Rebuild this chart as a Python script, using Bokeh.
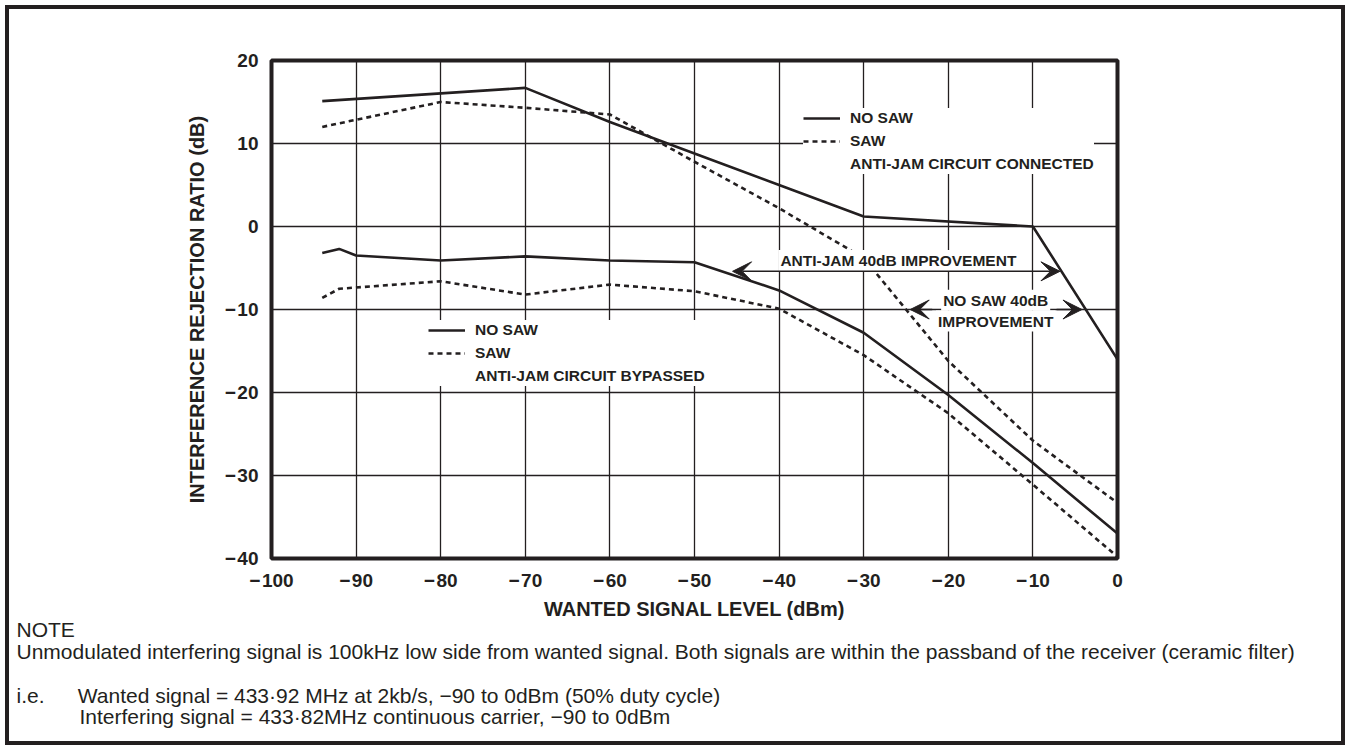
from bokeh.plotting import figure
from bokeh.models import (Range1d, Legend, LegendItem, Label, Arrow, VeeHead,
                          FixedTicker, Title)
from bokeh.embed import file_html
from bokeh.resources import INLINE

# ---------------- data ----------------
x_ticks = [-100, -90, -80, -70, -60, -50, -40, -30, -20, -10, 0]
y_ticks = [-40, -30, -20, -10, 0, 10, 20]

# Anti-jam circuit connected
conn_nosaw_x = [-94, -70, -60, -50, -40, -30, -10, 0]
conn_nosaw_y = [15.1, 16.7, 12.6, 8.8, 5.0, 1.2, 0.0, -16.0]
conn_saw_x = [-94, -80, -70, -60, -50, -40, -30, -20, -10, 0]
conn_saw_y = [12.0, 15.0, 14.3, 13.5, 7.8, 2.2, -3.8, -16.2, -25.8, -33.3]

# Anti-jam circuit bypassed
byp_nosaw_x = [-94, -92, -90, -80, -70, -60, -50, -40, -30, -20, -10, 0]
byp_nosaw_y = [-3.2, -2.7, -3.5, -4.1, -3.6, -4.1, -4.3, -7.7, -12.8, -20.3, -28.5, -37.0]
byp_saw_x = [-94, -92, -80, -70, -60, -50, -40, -30, -20, -10, 0]
byp_saw_y = [-8.6, -7.5, -6.6, -8.2, -7.0, -7.8, -9.9, -15.5, -22.5, -31.1, -39.8]

x_title = "WANTED SIGNAL LEVEL (dBm)"
y_title = "INTERFERENCE REJECTION RATIO (dB)"
note_lines = [
    "NOTE",
    "Unmodulated interfering signal is 100kHz low side from wanted signal. "
    "Both signals are within the passband of the receiver (ceramic filter)",
    "",
    "i.e.\u2003\u2002\u200aWanted signal = 433\u00b792 MHz at 2kb/s, "
    "\u221290 to 0dBm (50% duty cycle)",
    "\u2003\u2003\u2003Interfering signal = 433\u00b782MHz continuous carrier, "
    "\u221290 to 0dBm",
]

INK = "#231f20"
SANS = "Liberation Sans"
LBL_SIZE = "15.5px"
NOTE_SIZE = "21px"

W, H = 1340, 740
p = figure(width=W, height=H, output_backend="svg", toolbar_location=None,
           x_range=Range1d(-100, 0), y_range=Range1d(-40, 20),
           min_border_left=262, min_border_right=232,
           min_border_top=51, min_border_bottom=191,
           background_fill_color="white", border_fill_color="white",
           styles={"border": "4px solid #231f20",
                   "margin-left": "5px", "margin-top": "5px"})

p.outline_line_color = INK
p.outline_line_width = 4
p.outline_line_alpha = 1

def minus(v):
    return ("\u2212\u200a" + str(abs(v))) if v < 0 else str(v)

p.xaxis.ticker = FixedTicker(ticks=x_ticks)
p.yaxis.ticker = FixedTicker(ticks=y_ticks)
p.xaxis.major_label_overrides = {v: minus(v) for v in x_ticks}
p.yaxis.major_label_overrides = {v: minus(v) for v in y_ticks}
for ax in (p.xaxis, p.yaxis):
    ax.axis_line_color = None
    ax.major_tick_line_color = None
    ax.minor_tick_line_color = None
    ax.major_tick_out = 0
    ax.major_tick_in = 0
    ax.minor_tick_out = 0
    ax.minor_tick_in = 0
    ax.major_label_text_font = SANS
    ax.major_label_text_font_style = "bold"
    ax.major_label_text_font_size = "19px"
    ax.major_label_text_color = INK
    ax.axis_label_text_font = SANS
    ax.axis_label_text_font_style = "bold"
    ax.axis_label_text_font_size = "20px"
    ax.axis_label_text_color = INK
p.xaxis.major_label_standoff = 11
p.yaxis.major_label_standoff = 13
p.xaxis.axis_label = x_title
p.xaxis.axis_label_standoff = 4
p.yaxis.axis_label = y_title
p.yaxis.axis_label_standoff = 14

p.xgrid.ticker = FixedTicker(ticks=x_ticks)
p.ygrid.ticker = FixedTicker(ticks=y_ticks)
for g in (p.xgrid, p.ygrid):
    g.grid_line_color = INK
    g.grid_line_width = 1.3
    g.grid_line_alpha = 1

LW = 2.6
DASH = "5 4"
r_cn = p.line(conn_nosaw_x, conn_nosaw_y, line_color=INK, line_width=LW)
r_cs = p.line(conn_saw_x, conn_saw_y, line_color=INK, line_width=LW, line_dash=DASH)
r_bn = p.line(byp_nosaw_x, byp_nosaw_y, line_color=INK, line_width=LW)
r_bs = p.line(byp_saw_x, byp_saw_y, line_color=INK, line_width=LW, line_dash=DASH)
r_d1 = p.line(conn_nosaw_x, conn_nosaw_y, line_alpha=0)
r_d2 = p.line(byp_nosaw_x, byp_nosaw_y, line_alpha=0)


def make_legend(rn, rs, rd, title, loc):
    lg = Legend(items=[LegendItem(label="NO SAW", renderers=[rn]),
                       LegendItem(label="SAW", renderers=[rs]),
                       LegendItem(label=title, renderers=[rd])],
                location=loc, orientation="vertical",
                background_fill_color="white", background_fill_alpha=1,
                border_line_color=None, padding=7, spacing=3, margin=0,
                glyph_width=37, glyph_height=20, label_height=20,
                label_standoff=10, label_text_font=SANS,
                label_text_font_style="bold", label_text_font_size=LBL_SIZE,
                label_text_color=INK)
    p.add_layout(lg)

make_legend(r_cn, r_cs, r_d1, "ANTI-JAM CIRCUIT CONNECTED", (532, 384))
make_legend(r_bn, r_bs, r_d2, "ANTI-JAM CIRCUIT BYPASSED", (157, 172))


def callout(x, y, text):
    p.add_layout(Label(x=x, y=y, text=text, text_font=SANS,
                       text_font_style="bold", text_font_size=LBL_SIZE,
                       text_color=INK, text_align="center",
                       text_baseline="middle", background_fill_color="white",
                       background_fill_alpha=1, padding=2))

callout(-25.9, -4.1, "ANTI-JAM 40dB IMPROVEMENT")
callout(-14.4, -8.9, "NO SAW 40dB")
callout(-14.4, -11.4, "IMPROVEMENT")


def head():
    return VeeHead(size=19, fill_color=INK, line_color=INK, line_width=1)

p.add_layout(Arrow(x_start=-45.5, y_start=-5.4, x_end=-6.8, y_end=-5.4,
                   start=head(), end=head(), line_color=INK, line_width=1.5))
p.add_layout(Arrow(x_start=-21.9, y_start=-10, x_end=-24.5, y_end=-10,
                   end=head(), line_color=INK, line_width=1.5))
p.add_layout(Arrow(x_start=-7.2, y_start=-10, x_end=-4.2, y_end=-10,
                   end=head(), line_color=INK, line_width=1.5))

# ---------------- notes under the chart ----------------
p.add_layout(Title(text="\n".join(note_lines), align="left", offset=-255,
                   standoff=-12, text_font=SANS, text_font_style="normal",
                   text_font_size=NOTE_SIZE, text_line_height=0.95,
                   text_color=INK), "below")

open("out.html", "w").write(file_html(p, INLINE))
